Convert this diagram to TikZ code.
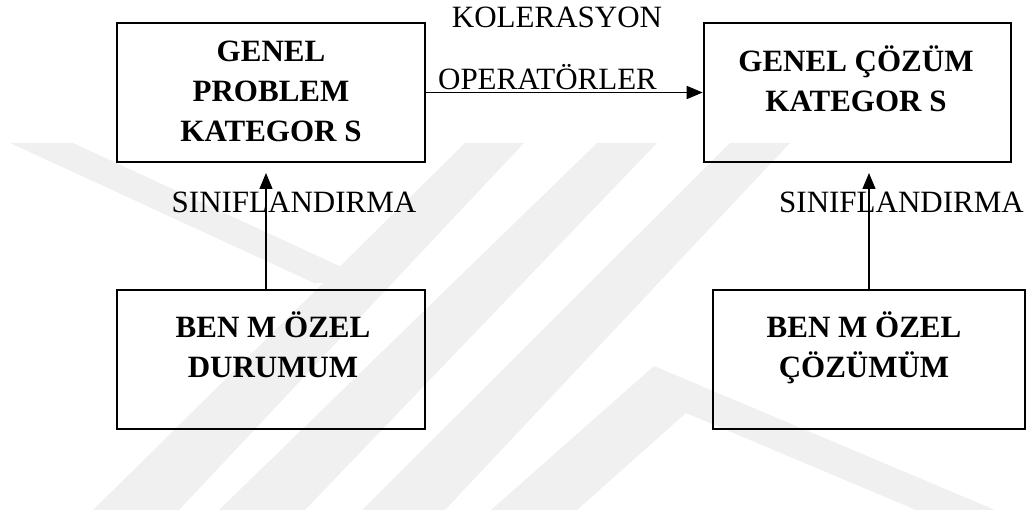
\documentclass[tikz,border=0pt]{standalone}
\usepackage{fontspec}
\setmainfont{Liberation Serif}
\usetikzlibrary{arrows.meta}

\begin{document}
\begin{tikzpicture}[x=0.5pt, y=-0.5pt,
  box/.style={draw, line width=1.3pt, minimum width=#1, minimum height=69.5pt, inner sep=0pt},
  boxtext/.style={font=\fontsize{15.5}{20}\selectfont\bfseries, align=center, anchor=base, inner sep=0pt},
  lbl/.style={font=\fontsize{15.5}{20}\selectfont, anchor=base, inner sep=0pt},
  link/.style={line width=0.6pt, -{Triangle[length=8pt, width=6.5pt]}},
  emblem/.style={fill=black!6, draw=none}]

  \useasboundingbox (0,0) rectangle (1035,518);

  % faint background emblem made of diagonal bands
  \fill[emblem] (10,143) -- (73,143) -- (376,283) -- (314,283) -- cycle;
  \fill[emblem] (465,143) -- (524,143) -- (179,510) -- (93,510) -- cycle;
  \fill[emblem] (597,143) -- (657,143) -- (305,510) -- (219,510) -- cycle;
  \fill[emblem] (730,143) -- (790,143) -- (445,510) -- (362,510) -- cycle;
  \fill[emblem] (654,366) -- (995,510) -- (916,510) -- (686,413)
                -- (577,510) -- (491,510) -- cycle;

  % boxes
  \node[box=154pt] (A) at (271,92.5) {};
  \node[box=153.5pt] (B) at (857.5,92.5) {};
  \node[box=154pt] (C) at (271,359.5) {};
  \node[box=156pt] (D) at (869,359.5) {};

  % box captions (anchored on the baseline of their last line)
  \node[boxtext] (At) at (271,142) {GENEL\\PROBLEM\\KATEGOR S};
  \node[boxtext] (Bt) at (856,112) {GENEL ÇÖZÜM\\KATEGOR S};
  \node[boxtext] (Ct) at (273,378) {BEN M ÖZEL\\DURUMUM};
  \node[boxtext] (Dt) at (864,378) {BEN M ÖZEL\\ÇÖZÜMÜM};

  % connector labels
  \node[lbl] (k) at (557,28) {KOLERASYON};
  \node[lbl] (o) at (547.5,90) {OPERATÖRLER};
  \node[lbl] (s1) at (294,213) {SINIFLANDIRMA};
  \node[lbl] (s2) at (901.5,213) {SINIFLANDIRMA};

  % free arrow ends below the upper boxes
  \coordinate (tA) at (266,173);
  \coordinate (tB) at (869,173);

  % connectors
  \draw[link, line width=0.8pt] (A.east) -- (A.east -| B.west);
  \draw[link] (C.north -| tA) -- (tA);
  \draw[link] (D.north -| tB) -- (tB);
\end{tikzpicture}
\end{document}
